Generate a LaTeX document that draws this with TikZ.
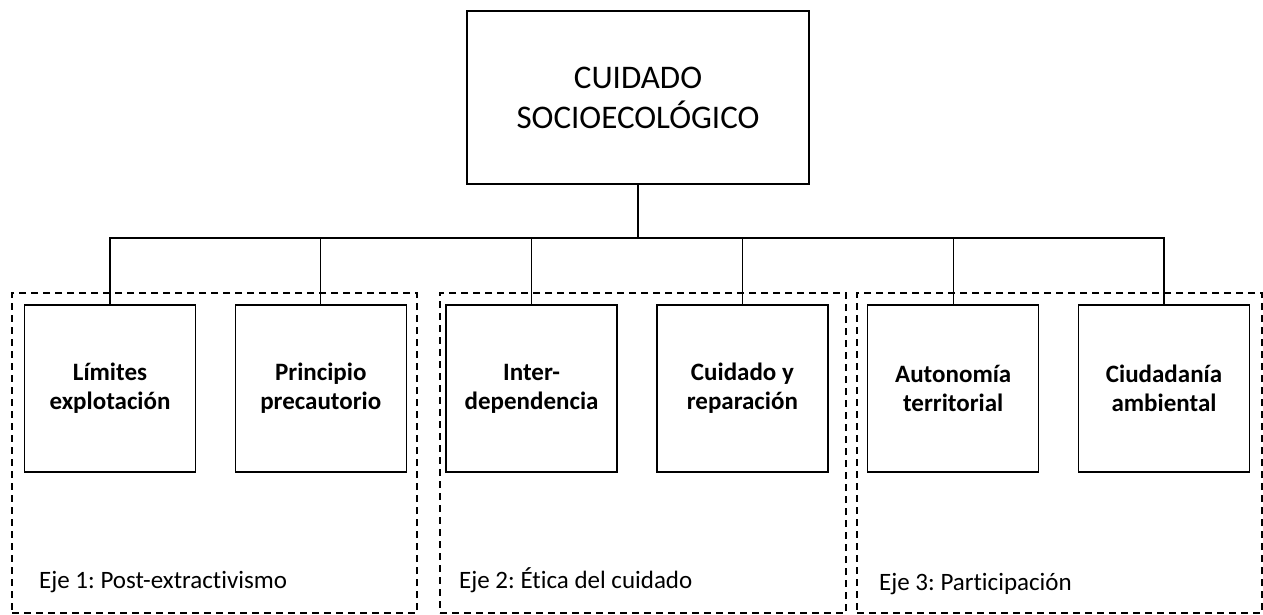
\documentclass[tikz,border=0pt]{standalone}
\usepackage{fontspec}
\setmainfont{Carlito}[Ligatures=NoCommon]
\frenchspacing
\usetikzlibrary{positioning}
\tikzset{
  rootbox/.style={draw, rectangle, align=center, line width=1.3pt, minimum width=342pt, minimum height=173pt, font=\fontsize{33}{40}\selectfont},
  leafbox/.style={draw, rectangle, align=center, line width=1.3pt, minimum width=171pt, minimum height=167pt, font=\bfseries\fontsize{25}{29}\selectfont},
  axisbox/.style={draw, dash pattern=on 7pt off 5pt, line width=1.4pt, rectangle, inner sep=0pt, minimum width=405pt, minimum height=320pt},
  axislabel/.style={anchor=base west, inner sep=0pt, font=\fontsize{25}{28}\selectfont},
  link/.style={line width=1.3pt}
}

\begin{document}
\begin{tikzpicture}[
    x=1pt, y=-1pt, % picture measured in pixels, top down
    node distance=38.5pt
]
\useasboundingbox (0,0) rectangle (1263,615);

% 1. Three dashed axes
\node[axisbox] (eje1) at (214.5,453) {};
\node[axisbox, minimum width=406pt] (eje2) at (643,453) {};
\node[axisbox] (eje3) at (1059.5,453) {};

\node[axislabel] (lab1) at (39,588) {Eje 1: Post-extractivismo};
\node[axislabel] (lab2) at (459,588) {Eje 2: Ética del cuidado};
\node[axislabel] (lab3) at (879,590) {Eje 3: Participación};

% 2. Root and the six leaves
\node[rootbox] (root) at (638,97.5) {CUIDADO\\SOCIOECOLÓGICO};

\node[leafbox] (lim) at (110,388.5) {Límites\\explotación};
\node[leafbox, right=of lim] (pre) {Principio\\precautorio};
\node[leafbox, right=of pre] (int) {Inter-\\dependencia};
\node[leafbox, right=of int] (cui) {Cuidado y\\reparación};
\node[leafbox, right=of cui] (aut) {Autonomía\\territorial};
\node[leafbox, right=of aut] (ciu) {Ciudadanía\\ambiental};

% 3. Connections
\coordinate (bar) at (638,238);
\draw[link] (root.south) -- (bar);
\foreach \leaf in {lim,pre,int,cui,aut,ciu}
  \draw[link] (bar) -| (\leaf.north);

\end{tikzpicture}
\end{document}
